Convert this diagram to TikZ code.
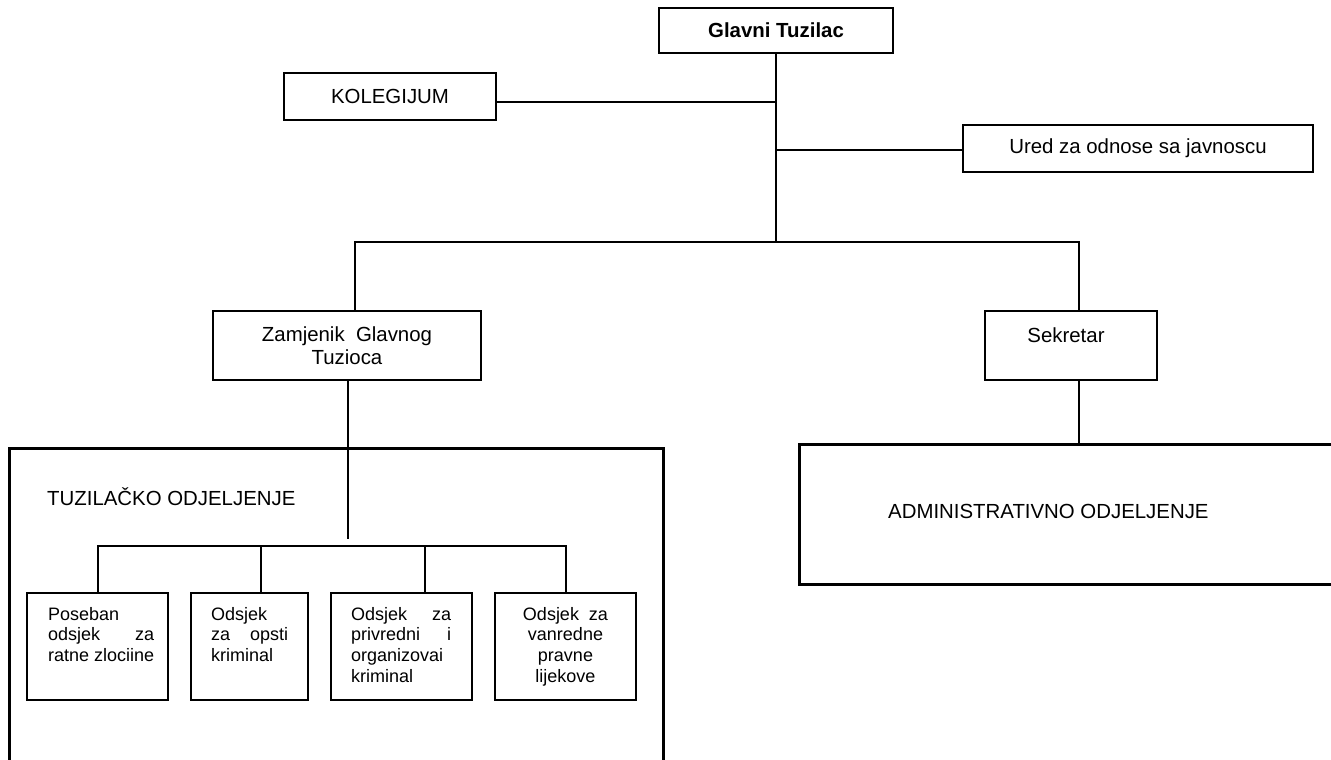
\documentclass[tikz,border=0pt]{standalone}
\usepackage{fontspec}
\setmainfont{Liberation Sans}
\begin{document}
\begin{tikzpicture}[x=1pt,y=-1pt,
  box/.style={draw,line width=1.7pt,inner sep=0pt},
  bigbox/.style={draw,line width=3pt,inner sep=0pt},
  link/.style={line width=1.3pt},
  lbl/.style={inner sep=0pt,font=\fontsize{20.4}{23.4}\selectfont},
  small/.style={inner sep=0pt,font=\fontsize{18}{20.7}\selectfont},
]
\useasboundingbox (0,0) rectangle (1331,760);
\clip (0,0) rectangle (1331,760);
\fill[white] (0,0) rectangle (1331,760);

% top level
\node[box,minimum width=234pt,minimum height=45pt,font=\fontsize{20.4}{23.4}\selectfont\bfseries] (gt) at (776,30.5) {Glavni Tuzilac};
\node[box,lbl,minimum width=212pt,minimum height=47pt] (kol) at (390,96.5) {KOLEGIJUM};
\node[box,lbl,minimum width=350pt,minimum height=47pt] (ured) at (1138,148.5) {Ured za odnose sa javnoscu};

% second level
\node[box,lbl,align=center,minimum width=268pt,minimum height=69pt] (zam) at (347,345.5) {Zamjenik\ \ Glavnog\\Tuzioca};
\node[box,minimum width=172pt,minimum height=69pt] (sek) at (1071,345.5) {};
\node[lbl] (sekt) at (1066,335) {Sekretar};

% departments
\node[bigbox,anchor=north west,minimum width=654pt,minimum height=420pt] (tuz) at (8,447) {};
\node[lbl,anchor=west] (tuzt) at (47,497) {TUZILAČKO ODJELJENJE};
\node[bigbox,anchor=north west,minimum width=620pt,minimum height=140pt] (adm) at (798,443) {};
\node[lbl,anchor=west] (admt) at (888,511) {ADMINISTRATIVNO ODJELJENJE};

% sections
\node[box,minimum width=141pt,minimum height=107pt] (s1) at (97.5,646.5) {};
\node[box,minimum width=117pt,minimum height=107pt] (s2) at (249.5,646.5) {};
\node[box,minimum width=141pt,minimum height=107pt] (s3) at (401.5,646.5) {};
\node[box,minimum width=141pt,minimum height=107pt] (s4) at (565.5,646.5) {};

\node[small,align=left,anchor=north west] (s1t) at (48,607) {Poseban\\\makebox[106pt][s]{odsjek za}\\ratne zlociine};
\node[small,align=left,anchor=north west] (s2t) at (211,607) {Odsjek\\\makebox[77pt][s]{za opsti}\\kriminal};
\node[small,align=left,anchor=north west] (s3t) at (351,607) {\makebox[100pt][s]{Odsjek za}\\\makebox[100pt][s]{privredni i}\\organizovai\\kriminal};
\node[small,align=center,anchor=north] (s4t) at (565.5,607) {Odsjek\ \ za\\vanredne\\pravne\\lijekove};

% junction points
\coordinate (kj) at (776,102);
\coordinate (uj) at (776,150);
\coordinate (sp) at (776,242);
\coordinate (bl) at (355,242);
\coordinate (br) at (1079,242);
\coordinate (zd) at (348,539);
\coordinate (h1) at (98,546);
\coordinate (h2) at (261,546);
\coordinate (h3) at (425,546);
\coordinate (h4) at (566,546);

% connectors
\draw[link] (gt.south) -- (sp);
\draw[link] (kol.east |- kj) -- (kj);
\draw[link] (uj) -- (ured.west |- uj);
\draw[link] (zam.north -| bl) -- (bl) -- (br) -- (sek.north -| br);
\draw[link] (zam.south -| zd) -- (zd);
\draw[link] (sek.south -| br) -- (adm.north -| br);
\draw[link] (s1.north -| h1) -- (h1) -- (h4) -- (s4.north -| h4);
\draw[link] (h2) -- (s2.north -| h2);
\draw[link] (h3) -- (s3.north -| h3);
\end{tikzpicture}
\end{document}
